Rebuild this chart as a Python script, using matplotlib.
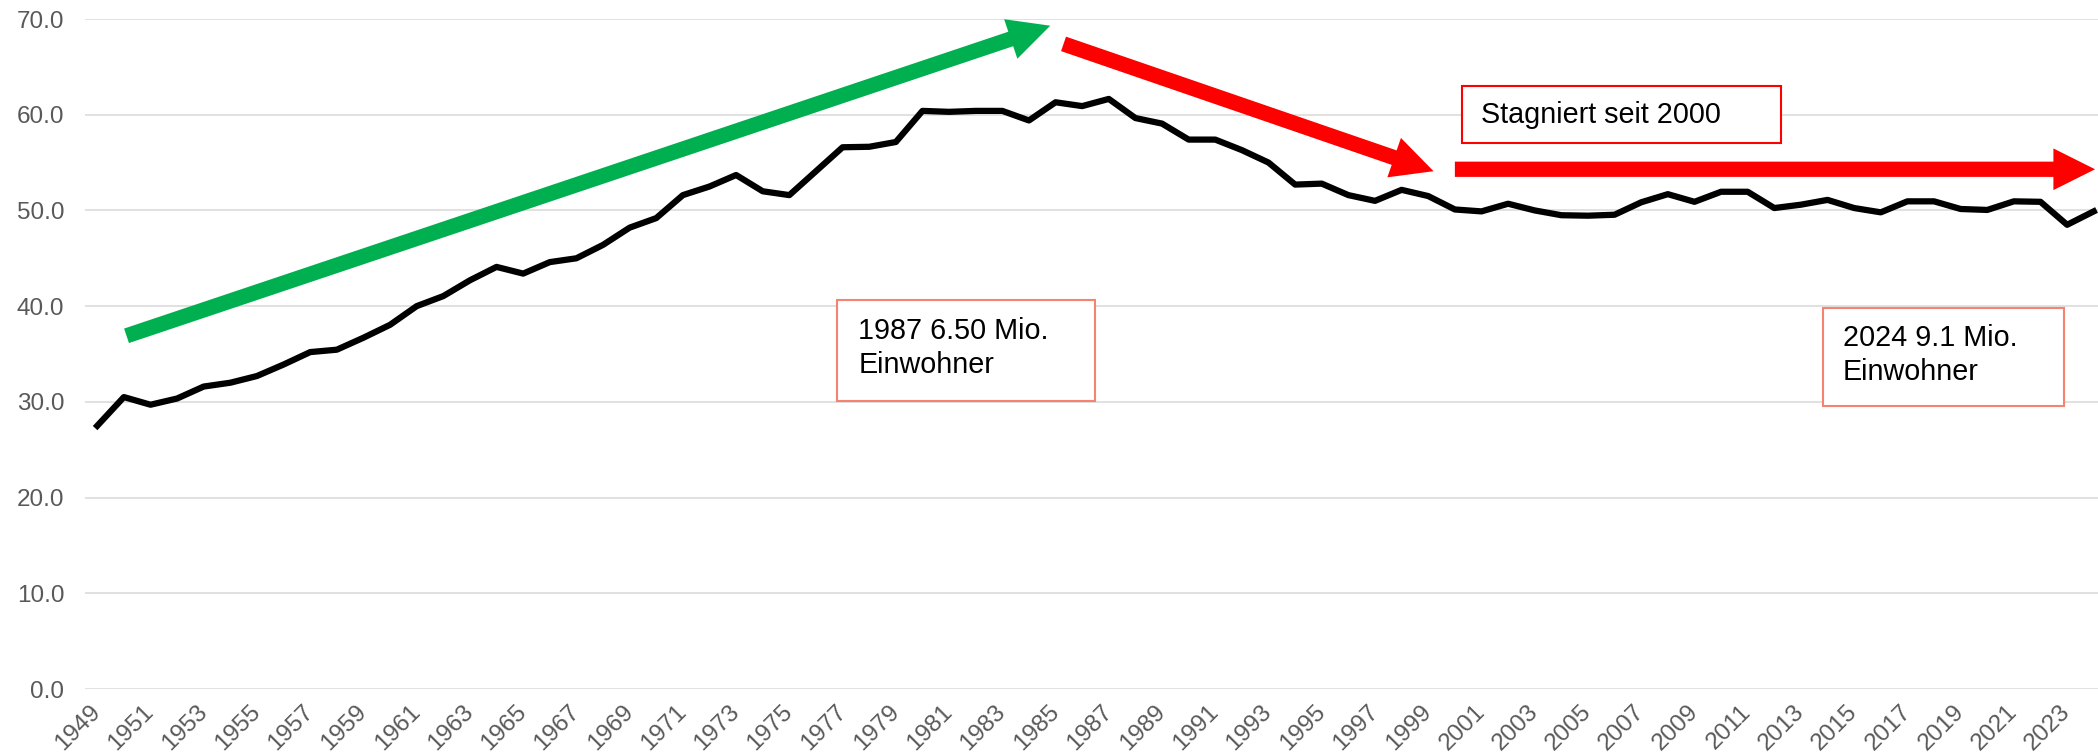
import matplotlib
matplotlib.use("Agg")
import matplotlib.pyplot as plt
from matplotlib.patches import Rectangle
import numpy as np

years = list(range(1949, 2025))
values = [27.5, 30.5, 29.7, 30.35, 31.6, 32.0, 32.7, 33.9, 35.2, 35.45,
          36.7, 38.05, 40.0, 41.05, 42.7, 44.1, 43.4, 44.6, 45.0, 46.4,
          48.2, 49.2, 51.6, 52.5, 53.7, 52.0, 51.6, 54.1, 56.6, 56.65,
          57.15, 60.4, 60.3, 60.4, 60.4, 59.4, 61.3, 60.9, 61.65, 59.65,
          59.07, 57.4, 57.4, 56.3, 55.0, 52.7, 52.8, 51.6, 51.0, 52.15,
          51.5, 50.1, 49.9, 50.7, 50.0, 49.5, 49.45, 49.55, 50.85, 51.7,
          50.9, 51.95, 51.95, 50.25, 50.6, 51.1, 50.25, 49.8, 50.95, 50.95,
          50.15, 50.05, 50.95, 50.9, 48.5, 49.9]
xtick_years = years[::2]
yticks = [0, 10, 20, 30, 40, 50, 60, 70]

plt.rcParams['font.family'] = ['Liberation Sans', 'DejaVu Sans']

W, H = 2098, 755
fig = plt.figure(figsize=(W / 100, H / 100), dpi=100)
ax = fig.add_axes([85 / W, 1 - 689 / H, 1 - 85 / W, (689 - 19) / H])

ax.plot(years, values, color='black', lw=4.5, solid_joinstyle='round', zorder=3)

ax.set_xlim(1948.54, 2024.16)
ax.set_ylim(0, 70)
ax.set_yticks(yticks)
ax.set_yticklabels([f"{v:.1f}" for v in yticks])
ax.set_xticks(xtick_years)
ax.set_xticklabels([str(y) for y in xtick_years], rotation=45, ha='right',
                   va='center', rotation_mode='anchor')
ax.tick_params(axis='y', length=0, pad=15.0, labelsize=17.5, labelcolor='#595959')
ax.tick_params(axis='x', length=0, pad=14, labelsize=17.5, labelcolor='#595959')
ax.grid(axis='y', color='#D9D9D9', lw=1.1)
ax.set_axisbelow(True)
for s in ax.spines.values():
    s.set_visible(False)

# arrows
def arrow(start, tip, color):
    ax.annotate('', xy=tip, xytext=start,
                arrowprops=dict(arrowstyle='simple,head_length=30,head_width=30,tail_width=11',
                                color=color, lw=0, shrinkA=0, shrinkB=0,
                                mutation_scale=1), zorder=4)

arrow((1950.1, 36.9), (1984.8, 69.3), '#00B050')
arrow((1985.3, 67.4), (1999.2, 54.1), '#FF0000')
arrow((2000.0, 54.3), (2024.05, 54.3), '#FF0000')

# boxes
def box(x0, x1, y0, y1, ec):
    ax.add_patch(Rectangle((x0, y0), x1 - x0, y1 - y0, fill=True, fc='white',
                           ec=ec, lw=1.5, zorder=5))

box(1976.8, 1986.5, 30.13, 40.65, '#F4836F')
ax.text(1977.59, 36.57, "1987 6.50 Mio.", fontsize=20.7, va='baseline', zorder=6)
ax.text(1977.59, 32.99, "Einwohner", fontsize=20.7, va='baseline', zorder=6)

box(2000.25, 2012.24, 57.02, 63.0, '#FF0000')
ax.text(2001.0, 59.1, "Stagniert seit 2000", fontsize=20.7, va='baseline', zorder=6)

box(2013.82, 2022.88, 29.57, 39.78, '#F4836F')
ax.text(2014.57, 35.87, "2024 9.1 Mio.", fontsize=20.7, va='baseline', zorder=6)
ax.text(2014.57, 32.29, "Einwohner", fontsize=20.7, va='baseline', zorder=6)

fig.savefig('out.png', dpi=100)
